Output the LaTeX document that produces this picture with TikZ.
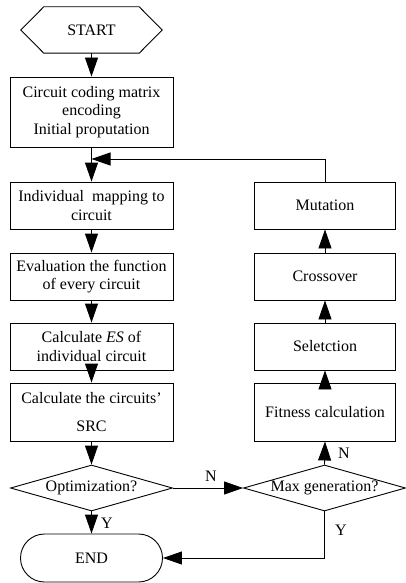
\documentclass[tikz,border=0pt]{standalone}
\usepackage{fontspec}
\setmainfont{Liberation Serif}
\usetikzlibrary{shapes.geometric,shapes.misc,arrows.meta}
\begin{document}
\begin{tikzpicture}[x=1pt,y=-1pt,
  font=\fontsize{16}{18.5}\selectfont,
  every node/.style={inner sep=0pt,align=center},
  box/.style={draw,line width=0.9pt},
  lbox/.style={box,minimum width=163pt},
  rbox/.style={box,minimum width=141pt},
  dia/.style={draw,line width=0.9pt,diamond,minimum width=162pt,minimum height=46pt},
  arr/.style={line width=0.9pt,-{Triangle[width=13pt,length=19pt]}},
  ln/.style={line width=0.9pt}]
\useasboundingbox (0,0) rectangle (405,583);
% start hexagon
\node[minimum width=141pt,minimum height=46pt] (start) at (91.5,30) {START};
\draw[ln] (start.west) -- ([xshift=23pt]start.north west) -- ([xshift=-23pt]start.north east)
  -- (start.east) -- ([xshift=-23pt]start.south east) -- ([xshift=23pt]start.south west) -- cycle;
\node[lbox,minimum height=70pt] (b1) at (91.5,112) {Circuit coding matrix\\encoding\\Initial proputation};
\node[lbox,minimum height=47pt] (b2) at (91.5,205.5) {Individual\ \ mapping to\\circuit};
\node[lbox,minimum height=47pt] (b3) at (91.5,276.5) {Evaluation the function\\of every circuit};
\node[lbox,minimum height=47pt] (b4) at (91.5,346.5) {Calculate \textit{ES} of\\individual circuit};
\node[lbox,minimum height=58pt] (b5) at (91.5,412) {Calculate the circuits’\\[10pt]SRC};
\node[dia] (opt) at (91.5,488) {\makebox[0pt]{Optimization?}};
\node[draw,line width=0.9pt,rounded rectangle,minimum width=142pt,minimum height=48pt] (end) at (91.5,558) {END};
\node[dia] (mg) at (324.5,488) {\makebox[0pt]{Max generation?}};
\node[rbox,minimum height=58pt] (fit) at (325,412) {Fitness calculation};
\node[rbox,minimum height=47pt] (sel) at (325,346.5) {Seletction};
\node[rbox,minimum height=47pt] (cro) at (325,276.5) {Crossover};
\node[rbox,minimum height=47pt] (mut) at (325,205.5) {Mutation};
\coordinate (j) at (91.5,159);
% connectors
\draw[arr] (start.south) -- (b1.north);
\draw[arr] (b1.south) -- (b2.north);
\draw[arr] (mut.north) |- (j);
\draw[arr] (b2.south) -- (b3.north);
\draw[arr] (b3.south) -- (b4.north);
\draw[arr] (b4.south) -- (b5.north);
\draw[arr] (b5.south) -- (opt.north);
\draw[arr] (opt.south) -- (end.north);
\draw[arr] (opt.east) -- (mg.west);
\draw[arr] (mg.north) -- (fit.south);
\draw[arr] (fit.north) -- (sel.south);
\draw[arr] (sel.north) -- (cro.south);
\draw[arr] (cro.north) -- (mut.south);
\draw[arr] (mg.south) |- (end.east);
% labels
\node (ly1) at (107,523) {Y};
\node (ln1) at (211,476) {N};
\node (ln2) at (344,453) {N};
\node (ly2) at (341,530) {Y};
\end{tikzpicture}
\end{document}
